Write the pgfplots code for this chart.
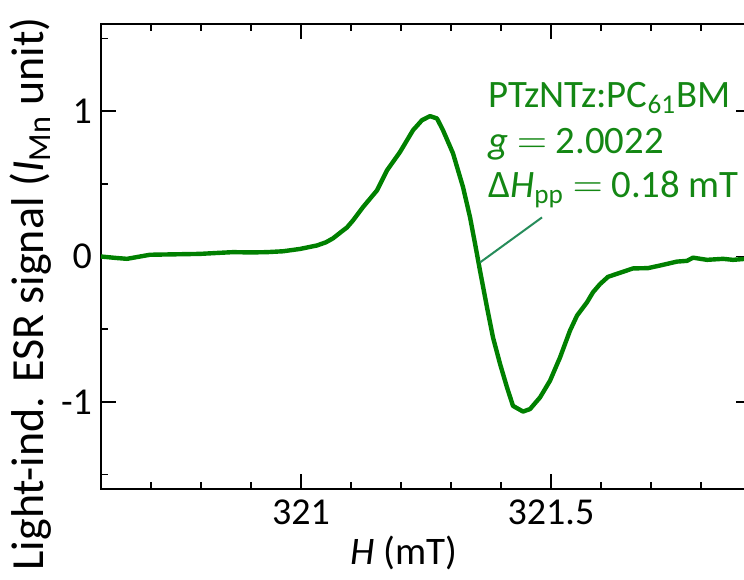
\documentclass[border=0pt]{standalone}
\usepackage{pgfplots}
\pgfplotsset{compat=1.18}
\usepackage{fontspec}
\setmainfont{Carlito}
\definecolor{curve}{RGB}{0,128,0}
\definecolor{anno}{RGB}{20,135,20}
\definecolor{pointer}{RGB}{38,140,90}
\begin{document}
\begin{tikzpicture}
\begin{axis}[
  at={(0,0)}, anchor=south west,
  scale only axis,
  width=325pt, height=232.5pt,
  xmin=320.6, xmax=321.9,
  ymin=-1.6, ymax=1.6,
  xtick={321,321.5},
  xticklabels={321,321.5},
  minor xtick={320.7,320.8,320.9,321.1,321.2,321.3,321.4,321.6,321.7,321.8},
  ytick={-1,0,1},
  yticklabels={-1,0,1},
  minor ytick={-1.5,-0.5,0.5,1.5},
  tick align=inside,
  major tick length=7.5pt,
  minor tick length=3.5pt,
  every tick/.style={black, line width=0.75pt},
  axis line style={black, line width=1pt},
  tick label style={font=\fontsize{19}{22}\selectfont},
  /pgf/number format/assume math mode=true,
  xticklabel style={yshift=-2pt},
  yticklabel style={xshift=-1pt},
  xlabel={\textit{H} (mT)},
  ylabel={Light-ind. ESR signal (\textit{I}\textsubscript{Mn} unit)},
  xlabel style={font=\fontsize{19.5}{22}\selectfont, at={(axis description cs:0.466,-0.138)}, anchor=center},
  ylabel style={font=\fontsize{23}{26}\selectfont, at={(axis description cs:-0.109,0.42)}, anchor=center, rotate=0},
  clip=false,
]
\addplot[curve, line width=2.2pt, line join=round] coordinates {
(320.600,0.000) (320.630,-0.010) (320.652,-0.016) (320.675,-0.002) (320.698,0.012)
(320.748,0.015) (320.798,0.018) (320.830,0.024) (320.864,0.030) (320.900,0.028)
(320.932,0.030) (320.964,0.036) (320.998,0.052) (321.032,0.076) (321.050,0.098)
(321.064,0.125) (321.084,0.179) (321.092,0.200) (321.104,0.248) (321.124,0.340)
(321.152,0.455) (321.172,0.593) (321.198,0.719) (321.224,0.869) (321.242,0.938)
(321.258,0.966) (321.272,0.950) (321.284,0.869) (321.304,0.710) (321.324,0.478)
(321.338,0.271) (321.348,0.090) (321.358,-0.097) (321.372,-0.350) (321.384,-0.557)
(321.398,-0.738) (321.412,-0.901) (321.424,-1.028) (321.444,-1.067) (321.458,-1.050)
(321.478,-0.970) (321.498,-0.855) (321.518,-0.695) (321.538,-0.510) (321.552,-0.407)
(321.572,-0.315) (321.584,-0.246) (321.598,-0.190) (321.614,-0.140) (321.638,-0.112)
(321.664,-0.082) (321.694,-0.080) (321.718,-0.062) (321.752,-0.035) (321.772,-0.030)
(321.784,-0.008) (321.812,-0.023) (321.844,-0.016) (321.864,-0.023) (321.890,-0.016)
};
\draw[pointer, line width=1pt] (axis cs:321.482,0.269) -- (axis cs:321.358,-0.041);
\node[anno, anchor=base west, inner sep=0pt, font=\fontsize{19.4}{22}\selectfont] at (axis cs:321.374,1.028) {PTzNTz:PC\textsubscript{61}BM};
\node[anno, anchor=base west, inner sep=0pt, font=\fontsize{19.4}{22}\selectfont] at (axis cs:321.374,0.710) {\textit{g} $=$ 2.0022};
\node[anno, anchor=base west, inner sep=0pt, font=\fontsize{19.4}{22}\selectfont] at (axis cs:321.374,0.407) {Δ\textit{H}\textsubscript{pp} $=$ 0.18 mT};
\end{axis}
\pgfresetboundingbox
\path[use as bounding box] (-50.5pt,-45pt) rectangle (321.5pt,244.5pt);
\end{tikzpicture}
\end{document}
